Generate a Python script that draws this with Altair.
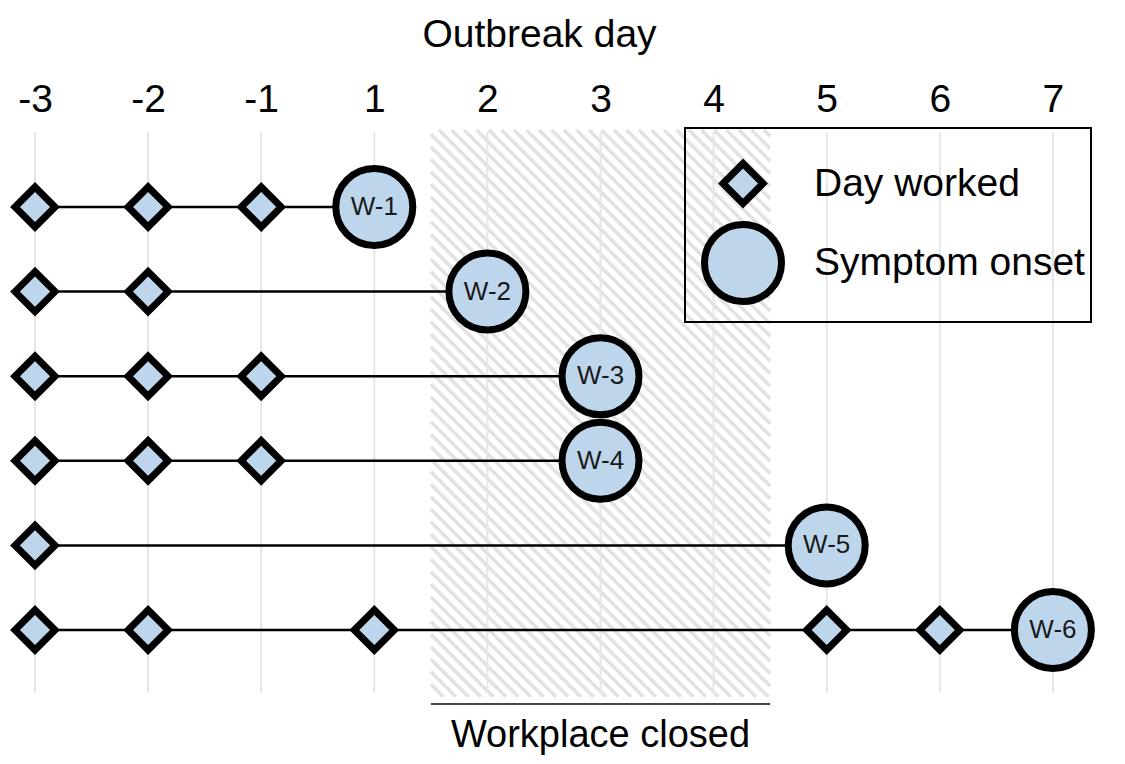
import altair as alt
import pandas as pd
import numpy as np

# ---------------- data ----------------
days = [-3, -2, -1, 1, 2, 3, 4, 5, 6, 7]          # outbreak-day tick labels (no day 0)
workers = ["W-1", "W-2", "W-3", "W-4", "W-5", "W-6"]
days_worked = [
    [-3, -2, -1],
    [-3, -2],
    [-3, -2, -1],
    [-3, -2, -1],
    [-3],
    [-3, -2, 1, 5, 6],
]
onset_day = [1, 2, 3, 3, 5, 7]
closed_first_day = 2
closed_last_day = 4
legend_labels = ["Day worked", "Symptom onset"]
closed_label = "Workplace closed"
axis_title = "Outbreak day"

# ---------------- layout (not data) ----------------
W, H, TOP = 1109, 628, 120
SX, SY = 113.1, 84.6                     # px per day slot / per worker row
XD0 = -27 / SX
XD1 = XD0 + W / SX
YD0 = (128 - 207) / SY
YD1 = YD0 + H / SY
FONT = "Liberation Sans"
FILL = "#bdd6ec"

idx = {d: i for i, d in enumerate(days)}

# points
rows = []
for r, (w, dw, on) in enumerate(zip(workers, days_worked, onset_day)):
    for d in dw:
        rows.append({"worker": w, "row": r, "x": idx[d], "type": legend_labels[0]})
    rows.append({"worker": w, "row": r, "x": idx[on], "type": legend_labels[1]})
pts = pd.DataFrame(rows)

lines = pd.DataFrame({
    "row": list(range(len(workers))),
    "x0": [idx[dw[0]] for dw in days_worked],
    "x1": [idx[on] for on in onset_day],
})
labels = pd.DataFrame({"worker": workers, "row": list(range(len(workers))),
                       "x": [idx[on] for on in onset_day]})

cx0 = idx[closed_first_day] - 0.5
cx1 = idx[closed_last_day] + 0.5
cy0, cy1 = -0.91, 5.79          # extent of the shaded band (rows)
gy0, gy1 = -0.887, 5.74         # extent of the grid lines (rows)

# diagonal hatch segments (45 deg in screen space), clipped to the band
def to_px(xv, yv):
    return (xv - XD0) * SX, (yv - YD0) * SY

def to_data(px, py):
    return px / SX + XD0, py / SY + YD0

bx0, by0 = to_px(cx0, cy0)
bx1, by1 = to_px(cx1, cy1)
hatch = []
period = 12.5
c = bx0 - by1
while c < bx1 - by0:
    xa = max(bx0, by0 + c)
    xb = min(bx1, by1 + c)
    if xb > xa:
        ax, ay = to_data(xa, xa - c)
        bxv, byv = to_data(xb, xb - c)
        hatch.append({"hx": ax, "hy": ay, "hx2": bxv, "hy2": byv})
    c += period
hatch = pd.DataFrame(hatch)

grid = pd.DataFrame({"x": list(range(len(days))), "y0": gy0, "y1": gy1})
band_line = pd.DataFrame({"x0": [cx0], "x1": [cx1], "y": [5.875]})
band_text = pd.DataFrame({"x": [(cx0 + cx1) / 2], "y": [6.38], "t": [closed_label]})

xs = alt.Scale(domain=[XD0, XD1], nice=False, zero=False)
ys = alt.Scale(domain=[YD0, YD1], nice=False, zero=False, reverse=True)

label_expr = "[" + ",".join(f"'{d}'" for d in days) + "][datum.value]"
XAX = alt.Axis(orient="top", values=list(range(len(days))),
               labelExpr=label_expr, title=axis_title,
               domain=False, ticks=False, tickSize=0, grid=False,
               labelFont=FONT, labelFontSize=39, labelColor="black",
               labelPadding=9, titleFont=FONT, titleFontSize=39,
               titleFontWeight="normal", titleColor="black",
               titlePadding=26, titleX=531, titleAlign="center")


def X(field):
    return alt.X(field, scale=xs, axis=XAX, title=axis_title)


def Y(field):
    return alt.Y(field, scale=ys, axis=None)


hatch_layer = alt.Chart(hatch).mark_rule(color="#e2e2e2", strokeWidth=3.6).encode(
    x=X("hx:Q"), x2="hx2:Q", y=Y("hy:Q"), y2="hy2:Q")

grid_layer = alt.Chart(grid).mark_rule(color="#e6e6e6", strokeWidth=2).encode(
    x=X("x:Q"), y=Y("y0:Q"), y2="y1:Q")

band_line_layer = alt.Chart(band_line).mark_rule(color="#444444", strokeWidth=2).encode(
    x=X("x0:Q"), x2="x1:Q", y=Y("y:Q"))

band_text_layer = alt.Chart(band_text).mark_text(
    font=FONT, fontSize=38, baseline="alphabetic", color="black").encode(
    x=X("x:Q"), y=Y("y:Q"), text="t:N")

line_layer = alt.Chart(lines).mark_rule(color="black", strokeWidth=2.5).encode(
    x=X("x0:Q"), x2="x1:Q", y=Y("row:Q"))

SHAPE_LEG = alt.Legend(orient="none", legendX=677, legendY=0,
                       title=" ", titleFontSize=16, titlePadding=10,
                       labelFont=FONT, labelFontSize=39, labelLimit=0,
                       labelExpr="datum.label + '\u00a0\u00a0'",
                       labelColor="black", strokeColor="black",
                       padding=6, labelOffset=29, rowPadding=-8, symbolOffset=10,
                       symbolStrokeWidth=7, symbolStrokeColor="black",
                       symbolFillColor=FILL)
SIZE_LEG = alt.Legend(orient="none", legendX=677, legendY=0)

point_layer = alt.Chart(pts).mark_point(
    filled=True, fill=FILL, stroke="black", strokeWidth=7, opacity=1,
    fillOpacity=1, strokeOpacity=1).encode(
    x=X("x:Q"), y=Y("row:Q"),
    shape=alt.Shape("type:N", scale=alt.Scale(domain=legend_labels,
                                               range=["diamond", "circle"]),
                    legend=SHAPE_LEG),
    size=alt.Size("type:N", scale=alt.Scale(domain=legend_labels, range=[1600, 5929]),
                  legend=SIZE_LEG),
)

text_layer = alt.Chart(labels).mark_text(
    font=FONT, fontSize=26, color="#1a1a1a", baseline="middle").encode(
    x=X("x:Q"), y=Y("row:Q"), text="worker:N")

chart = alt.layer(
    hatch_layer, grid_layer, band_line_layer, line_layer, point_layer,
    text_layer, band_text_layer
).properties(
    width=W, height=H,
    padding={"top": TOP, "left": 0, "right": 0, "bottom": 0},
    autosize=alt.AutoSizeParams(type="none"),
).configure_view(stroke=None).configure_legend(strokeWidth=2)

chart.save("out.html", embed_options={"renderer": "svg", "actions": False})
